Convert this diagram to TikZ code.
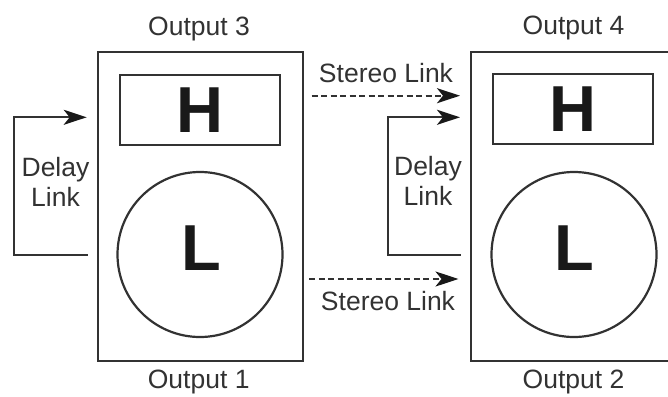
\documentclass[tikz,border=0pt]{standalone}
\usepackage{fontspec}
\setmainfont{Liberation Sans}
\usetikzlibrary{arrows.meta}
\definecolor{ink}{RGB}{50,50,50}
\definecolor{glyph}{RGB}{25,25,25}
\begin{document}
\begin{tikzpicture}[x=1pt,y=-1pt,
  unit/.style={draw=ink, line width=2.2pt, inner sep=0pt, minimum width=205pt, minimum height=309pt},
  band/.style={draw=ink, line width=2.2pt, inner sep=0pt, minimum width=160pt, minimum height=70pt,
    text=glyph, font=\fontsize{65}{70}\selectfont\bfseries},
  woofer/.style={draw=ink, circle, line width=2.2pt, inner sep=0pt, minimum size=165pt},
  letter/.style={text=glyph, inner sep=0pt, font=\fontsize{65}{70}\selectfont\bfseries},
  lbl/.style={text=ink, inner sep=0pt, anchor=base, font=\fontsize{26.5}{30}\selectfont},
  multilbl/.style={lbl, align=center},
  link/.style={draw=ink, line width=2.2pt, -{Stealth[length=23pt,width=15pt,inset=6pt,color=glyph]}},
  stereo/.style={link, dash pattern=on 6pt off 3.5pt}]
  \useasboundingbox (0,0) rectangle (668,396);
  \clip (0,0) rectangle (668,396);

  % left unit: outputs 3 (top) and 1 (bottom)
  \node[unit] (lbox) at (200.3,206.7) {};
  \node[band] (lhigh) at (200.3,110) {H};
  \node[woofer] (llow) at (200,254.5) {};
  \node[letter] (lL) at (201,248) {L};
  \node[lbl] (out3) at (199,35.5) {Output 3};
  \node[lbl] (out1) at (198.7,388) {Output 1};

  % right unit: outputs 4 (top) and 2 (bottom)
  \node[unit] (rbox) at (573.4,206.2) {};
  \node[band] (rhigh) at (573.3,108.7) {H};
  \node[woofer] (rlow) at (574,254.5) {};
  \node[letter] (rL) at (574.7,248) {L};
  \node[lbl] (out4) at (573.5,34.5) {Output 4};
  \node[lbl] (out2) at (573.5,388.5) {Output 2};

  % delay link loops (base anchor sits on the last line)
  \coordinate (ldfrom) at (87.7,255);
  \coordinate (ldto) at (86.7,117.3);
  \draw[link] (ldfrom) -- (14,255) |- (ldto);
  \node[multilbl] (ldelay) at (55.5,206) {Delay\\Link};

  \coordinate (rdfrom) at (460.7,255);
  \coordinate (rdto) at (460,117.3);
  \draw[link] (rdfrom) -- (388,255) |- (rdto);
  \node[multilbl] (rdelay) at (428,205) {Delay\\Link};

  % stereo links between the units
  \coordinate (sthfrom) at (311.7,95.7);
  \coordinate (sthto) at (460,95.7);
  \draw[stereo] (sthfrom) -- (sthto);
  \node[lbl] (sthigh) at (386,82.7) {Stereo Link};

  \coordinate (stlfrom) at (309.3,279);
  \coordinate (stlto) at (458.5,279);
  \draw[stereo] (stlfrom) -- (stlto);
  \node[lbl] (stlow) at (388,310.3) {Stereo Link};
\end{tikzpicture}
\end{document}
